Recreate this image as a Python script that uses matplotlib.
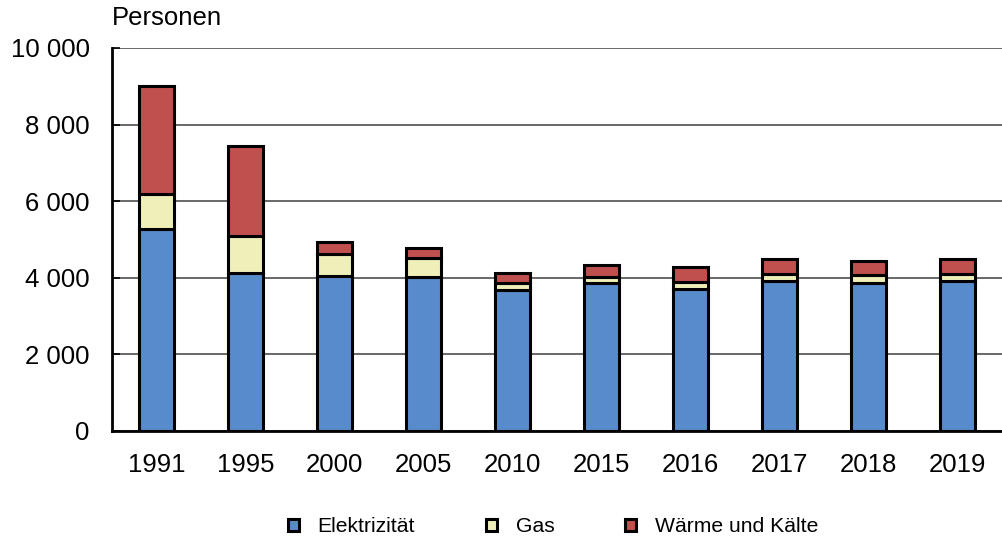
import matplotlib.pyplot as plt
import numpy as np

plt.rcParams['font.family'] = ['Liberation Sans', 'DejaVu Sans']

years = ['1991', '1995', '2000', '2005', '2010', '2015', '2016', '2017', '2018', '2019']
elektrizitaet = [5270, 4130, 4050, 4010, 3680, 3860, 3720, 3920, 3870, 3910]
gas = [920, 960, 560, 510, 190, 150, 180, 170, 190, 180]
waerme = [2820, 2360, 320, 250, 250, 320, 390, 390, 390, 390]
yticks = [0, 2000, 4000, 6000, 8000, 10000]
ytick_labels = ['0', '2 000', '4 000', '6 000', '8 000', '10 000']

fig = plt.figure(figsize=(10.02, 5.39), dpi=100)
ax = fig.add_axes([0.1118, 0.2004, 0.8882, 0.7106])

x = np.arange(len(years))
w = 0.4
elek = np.array(elektrizitaet)
g = np.array(gas)
h = np.array(waerme)
b1 = ax.bar(x, elek, w, color='#588BCB', edgecolor='black', linewidth=2.2, label='Elektrizität', zorder=3)
b2 = ax.bar(x, g, w, bottom=elek, color='#EEEFB9', edgecolor='black', linewidth=2.2, label='Gas', zorder=3)
b3 = ax.bar(x, h, w, bottom=elek + g, color='#C0504D', edgecolor='black', linewidth=2.2, label='Wärme und Kälte', zorder=3)

ax.set_xlim(-0.5, len(years) - 0.5)
ax.set_ylim(0, 10000)
ax.set_yticks(yticks)
ax.set_yticklabels(ytick_labels)
ax.set_xticks(x)
ax.set_xticklabels(years)
ax.yaxis.grid(True, color='#404040', linewidth=1.1, zorder=0)
ax.tick_params(axis='y', direction='in', length=6, width=1.2, labelsize=18.5, pad=16)
ax.tick_params(axis='x', length=0, labelsize=18.5, pad=16)
for s in ['top', 'right']:
    ax.spines[s].set_visible(False)
for s in ['left', 'bottom']:
    ax.spines[s].set_linewidth(2.0)
    ax.spines[s].set_zorder(4)

fig.text(0.1118, 0.945, 'Personen', fontsize=18.5, ha='left', va='bottom')

fig.legend(handles=[b1, b2, b3], loc='center', bbox_to_anchor=(0.552, 1 - 527 / 539), ncol=3,
           frameon=False, fontsize=15.2, handlelength=0.52, handleheight=0.52,
           columnspacing=3.35, handletextpad=0.9)

fig.savefig('out.png', dpi=100)
